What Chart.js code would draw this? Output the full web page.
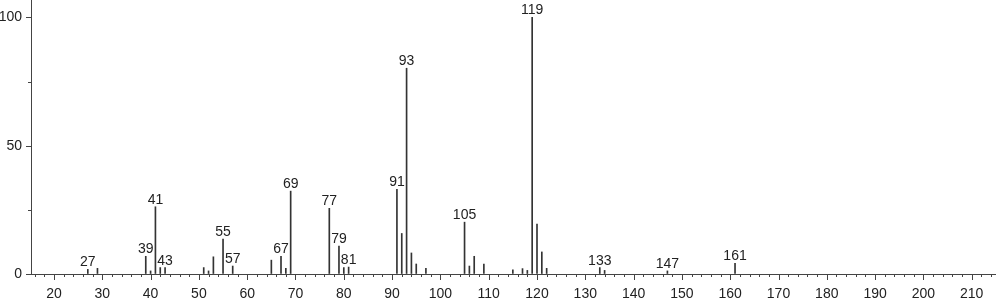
<!DOCTYPE html>
<html>
<head>
<meta charset="utf-8">
<script src="https://cdn.jsdelivr.net/npm/chart.js@4/dist/chart.umd.min.js"></script>
<style>
  body { margin: 0; background: #fff; }
</style>
</head>
<body>
<canvas id="spectrum" width="996" height="299"></canvas>
<script>
// m/z and relative intensity (%)
const masses = [27, 29, 39, 40, 41, 42, 43, 51, 52, 53, 55, 57, 65, 67, 68, 69, 77, 79, 80, 81,
  91, 92, 93, 94, 95, 97, 105, 106, 107, 109, 115, 117, 118, 119, 120, 121, 122, 133, 134, 147, 161]
const intensities = [1.8, 2.2, 6.9, 1.2, 26.2, 2.5, 2.5, 2.5, 1.2, 6.7, 13.6, 3.1, 5.4, 6.9, 2.2, 32.3, 25.6, 10.9, 2.5, 2.7,
  33.0, 15.8, 80.2, 8.2, 3.9, 2.2, 20.2, 3.1, 6.9, 3.9, 1.6, 2.1, 1.4, 100, 19.5, 8.6, 2.2, 2.5, 1.4, 1.2, 4.2]
// peaks that get their mass written on top
const labeledMasses = [27, 39, 41, 43, 55, 57, 67, 69, 77, 79, 81, 91, 93, 105, 119, 133, 147, 161]

const xTickLabels = [20, 30, 40, 50, 60, 70, 80, 90, 100, 110, 120, 130, 140, 150, 160, 170, 180, 190, 200, 210]
const yTickLabels = [0, 50, 100]

Chart.defaults.font.family = '"Liberation Sans", Arial, sans-serif'
Chart.defaults.font.size = 14
Chart.defaults.color = '#222'

const axisColor = '#444'

// small tick marks: long at labelled values, short in between
const tickMarks = {
  id: 'tickMarks',
  afterDraw(chart) {
    const c = chart.ctx
    const xs = chart.scales.x
    const ys = chart.scales.y
    const area = chart.chartArea
    c.save()
    c.strokeStyle = axisColor
    c.lineWidth = 1
    c.beginPath()
    xs.ticks.forEach(t => {
      const px = Math.round(xs.getPixelForValue(t.value)) + 0.5
      const len = xTickLabels.includes(t.value) ? 6 : 3
      c.moveTo(px, area.bottom)
      c.lineTo(px, area.bottom + len)
    })
    ys.ticks.forEach(t => {
      const py = Math.round(ys.getPixelForValue(t.value)) + 0.5
      const len = yTickLabels.includes(t.value) ? 5 : 3
      c.moveTo(area.left, py)
      c.lineTo(area.left - len, py)
    })
    c.stroke()
    c.restore()
  }
}

const peakLabels = {
  id: 'peakLabels',
  afterDatasetsDraw(chart) {
    const c = chart.ctx
    const meta = chart.getDatasetMeta(0)
    c.save()
    c.font = '14px "Liberation Sans", Arial, sans-serif'
    c.fillStyle = '#222'
    c.textAlign = 'center'
    c.textBaseline = 'alphabetic'
    meta.data.forEach((bar, i) => {
      if (labeledMasses.includes(masses[i])) {
        c.fillText(String(masses[i]), bar.x, bar.y - 3)
      }
    })
    c.restore()
  }
}

const ctx = document.getElementById('spectrum')

var chartSpectrum = new Chart(ctx, {
  type: 'bar',
  data: {
    datasets: [{
      data: masses.map((m, i) => ({ x: m, y: intensities[i] })),
      backgroundColor: '#333',
      borderWidth: 0,
      barThickness: 1
    }]
  },
  options: {
    responsive: false,
    animation: false,
    layout: { padding: 0 },
    plugins: {
      legend: { display: false },
      tooltip: { enabled: false }
    },
    scales: {
      x: {
        type: 'linear',
        offset: false,
        min: 15.24,
        max: 215.03,
        afterBuildTicks: scale => {
          const t = []
          for (let v = 16; v <= 214; v += 2) t.push({ value: v })
          scale.ticks = t
        },
        afterFit: scale => {
          scale.height = 25
          scale.paddingLeft = 0
          scale.paddingRight = 0
        },
        ticks: {
          autoSkip: false,
          maxRotation: 0,
          padding: 12,
          callback: v => xTickLabels.includes(v) ? String(v) : ''
        },
        grid: { display: true, offset: false, drawOnChartArea: false, drawTicks: false },
        border: { display: true, color: axisColor, width: 1 }
      },
      y: {
        min: 0,
        max: 106.8,
        afterBuildTicks: scale => {
          scale.ticks = [0, 25, 50, 75, 100].map(v => ({ value: v }))
        },
        afterFit: scale => {
          scale.width = 31
          scale.paddingTop = 0
          scale.paddingBottom = 0
        },
        ticks: {
          autoSkip: false,
          padding: 9,
          callback: v => yTickLabels.includes(v) ? String(v) : ''
        },
        grid: { display: true, drawOnChartArea: false, drawTicks: false },
        border: { display: true, color: axisColor, width: 1 }
      }
    }
  },
  plugins: [tickMarks, peakLabels]
})
</script>
</body>
</html>
